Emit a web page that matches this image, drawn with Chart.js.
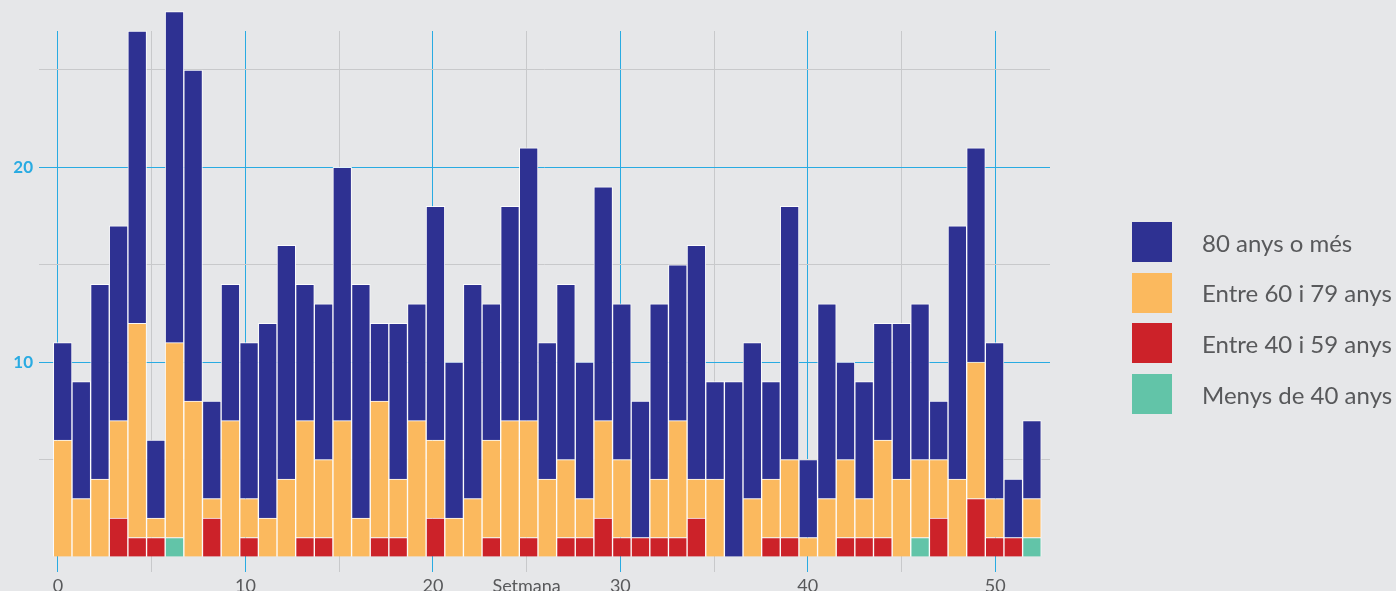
<!DOCTYPE html>
<html>
<head>
<meta charset="utf-8">
<script src="https://cdn.jsdelivr.net/npm/chart.js@4.4.1/dist/chart.umd.min.js"></script>
<style>
  html, body { margin: 0; padding: 0; background: #e6e7e9; overflow: hidden; }
  #wrap { position: relative; width: 1396px; height: 591px; }
  #legend { position: absolute; left: 1132px; top: 222px; font-family: Lato, sans-serif; font-size: 24px; color: #58595b; }
  .item { display: flex; align-items: center; height: 40px; margin-bottom: 10.7px; white-space: nowrap; }
  .box { width: 40px; height: 40px; margin-right: 30px; }
</style>
</head>
<body>
<div id="wrap">
  <canvas id="chart" width="1396" height="591"></canvas>
  <div id="legend"></div>
</div>
<script>
const setmanes = [0,1,2,3,4,5,6,7,8,9,10,11,12,13,14,15,16,17,18,19,20,21,22,23,24,25,26,
  27,28,29,30,31,32,33,34,35,36,37,38,39,40,41,42,43,44,45,46,47,48,49,50,51,52];

const menys40 = [0,0,0,0,0,0,1,0,0,0,0,0,0,0,0,0,0,0,0,0,0,0,0,0,0,0,0,
  0,0,0,0,0,0,0,0,0,0,0,0,0,0,0,0,0,0,0,1,0,0,0,0,0,1];
const entre40i59 = [0,0,0,2,1,1,0,0,2,0,1,0,0,1,1,0,0,1,1,0,2,0,0,1,0,1,0,
  1,1,2,1,1,1,1,2,0,0,0,1,1,0,0,1,1,1,0,0,2,0,3,1,1,0];
const entre60i79 = [6,3,4,5,11,1,10,8,1,7,2,2,4,6,4,7,2,7,3,7,4,2,3,5,7,6,4,
  4,2,5,4,0,3,6,2,4,0,3,3,4,1,3,4,2,5,4,4,3,4,7,2,0,2];
const mes80 = [5,6,10,10,15,4,17,17,5,7,8,10,12,7,8,13,12,4,8,6,12,8,11,7,11,14,7,
  9,7,12,8,7,9,8,12,5,9,8,5,13,4,10,5,6,6,8,8,3,13,11,8,3,4];

const blue = '#29abe2';
const grey = '#c8c9cb';

function punts(values) {
  return setmanes.map((s, i) => ({ x: s, y: values[i] }));
}

const series = [
  { label: 'Menys de 40 anys', values: menys40, color: '#62c4a8' },
  { label: 'Entre 40 i 59 anys', values: entre40i59, color: '#cc2229' },
  { label: 'Entre 60 i 79 anys', values: entre60i79, color: '#fbb95e' },
  { label: '80 anys o més', values: mes80, color: '#2e3192' }
];

const datasets = series.map(s => ({
  label: s.label,
  data: punts(s.values),
  backgroundColor: s.color,
  borderColor: 'rgba(255,255,255,0.85)',
  borderWidth: 1,
  barPercentage: 1,
  categoryPercentage: 1,
  xAxisID: 'xb',
  clip: false
}));

function gridColor(ctx) {
  if (!ctx.tick) return grey;
  const v = ctx.tick.value;
  if (v === 0 && ctx.scale.axis === 'y') return 'rgba(0,0,0,0)';
  return v % 10 === 0 ? blue : grey;
}

new Chart(document.getElementById('chart'), {
  type: 'bar',
  data: { datasets },
  options: {
    responsive: false,
    animation: false,
    layout: { padding: { top: 31, right: 346, bottom: 0, left: 0 } },
    plugins: { legend: { display: false }, tooltip: { enabled: false } },
    scales: {
      xb: {
        type: 'linear',
        display: false,
        stacked: true,
        offset: false,
        min: -1.27,
        max: 52.97
      },
      x: {
        type: 'linear',
        position: 'bottom',
        offset: false,
        min: -1.0135,
        max: 52.92,
        border: { display: false },
        grid: { color: gridColor, lineWidth: 1, tickLength: 15, offset: false },
        ticks: {
          stepSize: 5,
          includeBounds: false,
          autoSkip: false,
          maxRotation: 0,
          padding: 3,
          color: '#58595b',
          font: { family: 'Lato', size: 18 },
          callback: v => v === 25 ? 'Setmana' : (v % 10 === 0 ? v : '')
        },
        afterFit: s => { s.height = 34; }
      },
      y: {
        stacked: true,
        min: 0,
        max: 27,
        border: { display: false },
        grid: { color: gridColor, lineWidth: 1, drawTicks: false },
        ticks: {
          stepSize: 5,
          includeBounds: false,
          padding: 6,
          color: blue,
          font: { family: 'Lato', size: 17, weight: 'bold' },
          callback: v => (v === 10 || v === 20) ? v : ''
        },
        afterFit: s => { s.width = 39; }
      }
    }
  }
});

const legend = document.getElementById('legend');
series.slice().reverse().forEach(s => {
  const item = document.createElement('div');
  item.className = 'item';
  const box = document.createElement('div');
  box.className = 'box';
  box.style.background = s.color;
  const text = document.createElement('span');
  text.textContent = s.label;
  item.appendChild(box);
  item.appendChild(text);
  legend.appendChild(item);
});
</script>
</body>
</html>
